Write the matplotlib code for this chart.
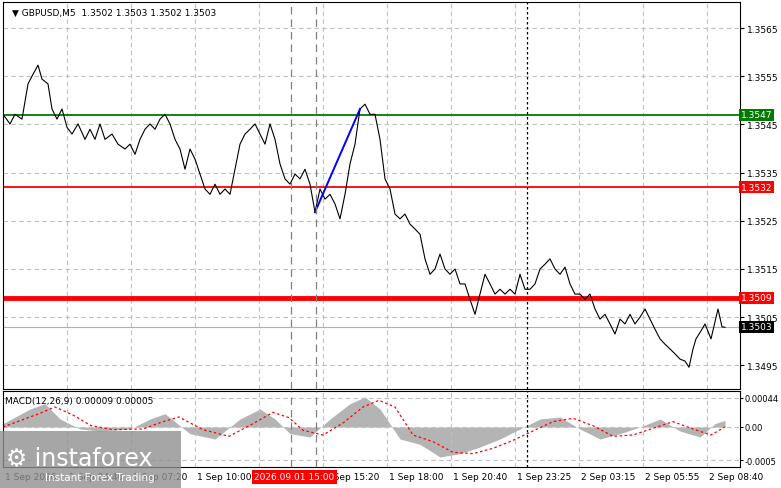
import matplotlib
matplotlib.use("Agg")
import matplotlib.pyplot as plt
import numpy as np
from matplotlib.patches import Rectangle

bars = [0,3.5,6,9.5,12.5,15,17.5,19.5,22.5,24.5,27,29.5,32,34.5,37.5,41,43.5,46,48.5,51,54.5,57.5,61,63.5,66,68.5,71,73.5,76,78.5,81,83.5,86,88.5,91,93.5,96,98.5,101,103.5,106,108.5,111,113.5,116,118.5,121,123.5,126,128.5,131,133.5,136,138.5,141,143.5,146,148.5,151,153.5,156,158.5,161,163.5,166,168.5,171,173.5,176,178.5,181,183.5,186,188.5,191,193.5,196,198.5,201,203.5,206,208.5,211,213.5,216,218.5,221,223.5,226,228.5,231,233.5,236,238.5,241,243.5,246,248.5,251,253.5,256,258.5,261,263.5,266,268.5,271,273.5,276,278.5,281,283.5,286,288.5,291,293.5,296,298.5,301,303.5,306,308.5,311,313.5,316,318.5,321,323.5,326,328.5,331,333.5,336,338.5,341,343,345,346.5,348,349.5,351,354,357.5,359.5,361]
price = [1.35471,1.35451,1.35471,1.35461,1.35534,1.35554,1.35573,1.35544,1.35534,1.35482,1.35461,1.35482,1.35444,1.35430,1.35451,1.35419,1.35440,1.35419,1.35451,1.35419,1.35430,1.35409,1.35399,1.35409,1.35388,1.35419,1.35440,1.35451,1.35440,1.35461,1.35471,1.35451,1.35419,1.35399,1.35357,1.35399,1.35378,1.35347,1.35316,1.35305,1.35326,1.35305,1.35316,1.35305,1.35357,1.35409,1.35430,1.35440,1.35451,1.35430,1.35409,1.35451,1.35419,1.35368,1.35337,1.35326,1.35347,1.35337,1.35357,1.35326,1.35268,1.35316,1.35295,1.35305,1.35285,1.35254,1.35305,1.35368,1.35409,1.35482,1.35492,1.35471,1.35471,1.35419,1.35337,1.35316,1.35264,1.35254,1.35264,1.35243,1.35233,1.35222,1.35171,1.35139,1.35150,1.35181,1.35150,1.35139,1.35150,1.35119,1.35119,1.35087,1.35056,1.35098,1.35139,1.35119,1.35098,1.35108,1.35098,1.35108,1.35098,1.35139,1.35108,1.35108,1.35119,1.35150,1.35160,1.35171,1.35150,1.35139,1.35154,1.35119,1.35098,1.35098,1.35087,1.35098,1.35067,1.35046,1.35056,1.35036,1.35015,1.35046,1.35036,1.35056,1.35036,1.35050,1.35067,1.35046,1.35025,1.35005,1.34994,1.34984,1.34974,1.34963,1.34959,1.34946,1.34984,1.35005,1.35015,1.35025,1.35036,1.35005,1.35067,1.35030,1.35029]

macd_bars = [0,13.5,21,28.5,38.5,48.5,63.5,73.5,81,93.5,106,118.5,128.5,136,143.5,153.5,163.5,173.5,181,188.5,198.5,208.5,218.5,228.5,238.5,248.5,258.5,268.5,278.5,288.5,298.5,308.5,318.5,328.5,338.5,348.5,356,361]
macd_hist = [0.00005,0.00027,0.00035,0.00012,-0.00003,-0.00006,-0.00003,0.00012,0.0002,-0.0001,-0.00018,0.00012,0.00027,0.00012,-0.0001,-0.00015,0.00012,0.00035,0.00045,0.00027,-0.00018,-0.00026,-0.00045,-0.0004,-0.0003,-0.00018,-0.00003,0.00012,0.00015,-0.00003,-0.00018,-0.0001,0.0,0.00012,-0.00006,-0.00015,0.00005,0.0001]
sig_bars = [0,18,26,35,44,55,70,80,88,100,113,125,135,143,150,160,170,180,188,196,205,215,225,235,245,255,265,275,285,295,305,315,325,335,345,354,361]
sig_vals = [0.00000,0.00020,0.00030,0.00018,0.00002,-0.00004,-0.00003,0.00008,0.00015,-0.00004,-0.00014,0.00005,0.00022,0.00014,-0.00005,-0.00012,0.00006,0.00030,0.00040,0.00030,-0.00012,-0.00022,-0.00038,-0.00040,-0.00032,-0.00020,-0.00006,0.00008,0.00013,0.00002,-0.00014,-0.00012,-0.00002,0.00008,-0.00003,-0.00012,0.0]

yticks = [1.3495,1.3505,1.3515,1.3525,1.3535,1.3545,1.3555,1.3565]
xtick_bars = [0,32,64,96,128,160,192,224,256,288,320,352]
xtick_labels = ["1 Sep 2026","1 Sep 04:40","1 Sep 07:20","1 Sep 10:00","1 Sep 12:40","1 Sep 15:20","1 Sep 18:00","1 Sep 20:40","1 Sep 23:25","2 Sep 03:15","2 Sep 05:55","2 Sep 08:40"]
levels = [(1.3547,"#007a00",1.3),(1.3532,"#ff0000",1.3),(1.3509,"#ff0000",3.5)]
current = 1.3503

W,H = 781,489
fig = plt.figure(figsize=(W/100,H/100),dpi=100)
fs = 6.5
ax = fig.add_axes([3/W,(H-390)/H,737/W,387/H])
mx = fig.add_axes([3/W,(H-468)/H,737/W,76/H])
for a in (ax,mx):
    a.set_xlim(0,368.5)
    a.tick_params(axis='y',right=True,left=False,labelright=True,labelleft=False,labelsize=fs,length=3,pad=2)
    a.tick_params(axis='x',bottom=False,labelbottom=False)
    a.set_xticks(xtick_bars)
    a.grid(True,color="#c0c0c0",ls=(0,(4,3)),lw=0.8)
    for s in a.spines.values(): s.set_linewidth(0.8)
mx.tick_params(axis='y',labelsize=6,length=2,pad=1)
ax.set_ylim(1.34901,1.35704)
ax.set_yticks(yticks)
ax.set_yticklabels([f"{v:.4f}" for v in yticks])
for lv,c,lw in levels:
    ax.axhline(lv,color=c,lw=lw)
    ax.text(1.001,lv,f"{lv:.4f}",transform=ax.get_yaxis_transform(),fontsize=fs,color="white",va="center",ha="left",
            bbox=dict(boxstyle="square,pad=0.15",fc=c,ec="none"),zorder=10)
ax.axhline(current,color="#b0b0b0",lw=0.8)
ax.text(1.001,current,f"{current:.4f}",transform=ax.get_yaxis_transform(),fontsize=fs,color="white",va="center",ha="left",
        bbox=dict(boxstyle="square,pad=0.15",fc="black",ec="none"),zorder=10)
ax.plot(bars,price,color="black",lw=0.8)
ax.plot([bars[60],bars[69]],[price[60],price[69]],color="#0000ff",lw=1.4)
for b,st,c in [(144,(0,(6,4)),"#808080"),(156.5,(0,(6,4)),"#808080"),(262,(0,(2,2)),"black")]:
    ax.axvline(b,color=c,ls=st,lw=0.9); mx.axvline(b,color=c,ls=st,lw=0.9)
ax.text(0.012,0.985,"▼ GBPUSD,M5  1.3502 1.3503 1.3502 1.3503",transform=ax.transAxes,fontsize=fs,va="top")

mx.set_ylim(-0.0006,0.00054)
mx.set_yticks([-0.0005,0.0,0.00044])
mx.set_yticklabels(["-0.0005","0.00","0.00044"])
mx.fill_between(macd_bars,0,macd_hist,color="#b4b4b4",lw=0)
mx.plot(sig_bars,sig_vals,color="red",ls=(0,(2,2)),lw=0.9)
mx.text(0.003,0.93,"MACD(12,26,9) 0.00009 0.00005",transform=mx.transAxes,fontsize=fs,va="top")
for b,l in zip(xtick_bars,xtick_labels):
    mx.text(b+1,-0.00075,l,fontsize=fs,ha="left",va="center",clip_on=False)
mx.text(125.5,-0.00075,"2026.09.01 15:00",fontsize=fs,ha="left",va="center",color="white",clip_on=False,
        bbox=dict(boxstyle="square,pad=0.25",fc="#ff0000",ec="none"),zorder=20)
fig.patches.append(Rectangle((0,0),181/W,57/H,transform=fig.transFigure,fc="#909090",alpha=0.8,ec="none",zorder=30))
fig.text(6/W,24/H,"⚙ instaforex",fontsize=17,color="white",zorder=31)
fig.text(45/W,8/H,"Instant Forex Trading",fontsize=7.5,color="white",zorder=31)
fig.savefig("out.png",dpi=100)
